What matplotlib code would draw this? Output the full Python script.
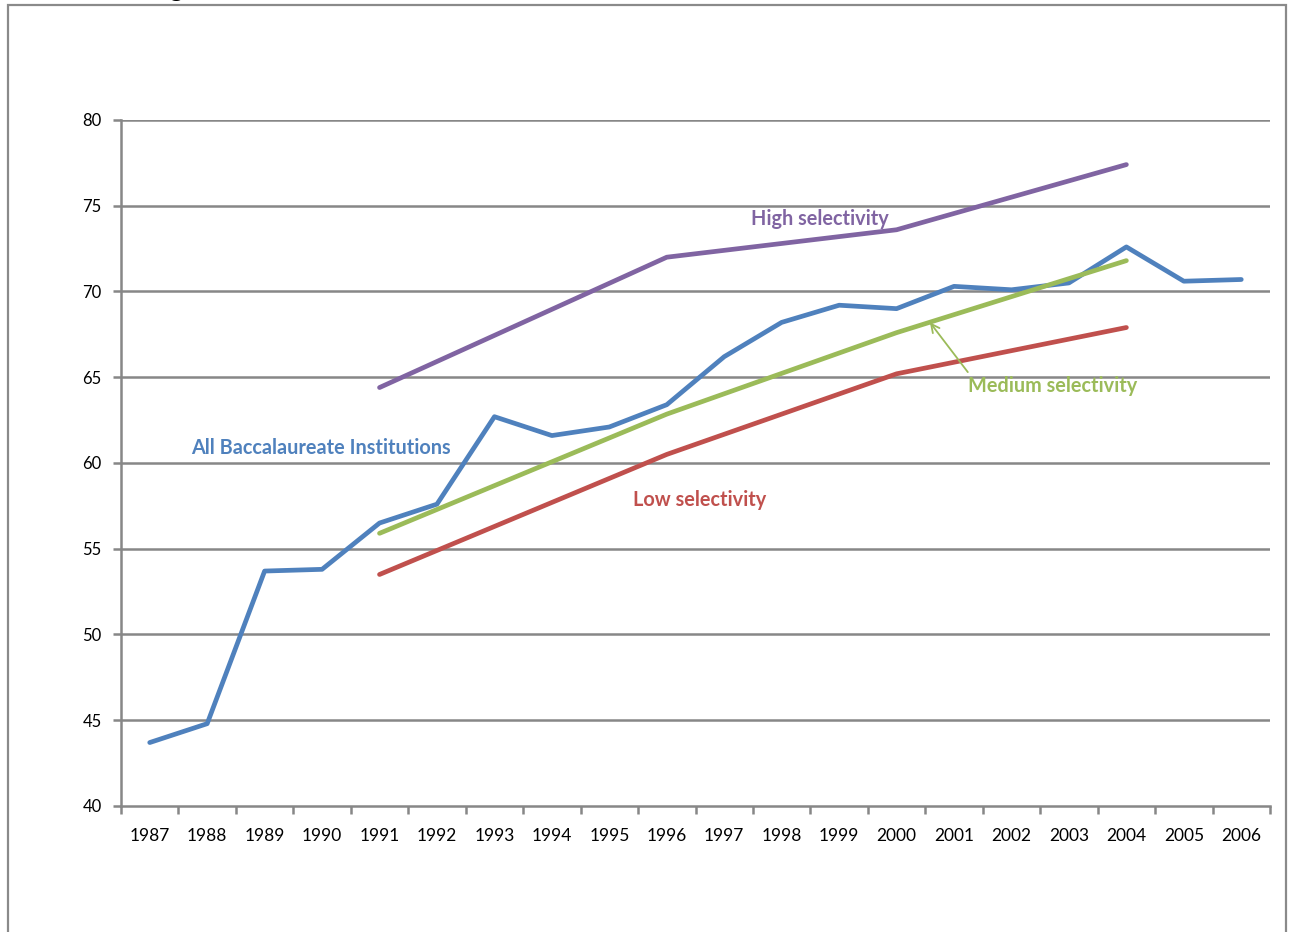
import numpy as np
import matplotlib
matplotlib.use("Agg")
import matplotlib.pyplot as plt
from matplotlib.patches import Rectangle

years = list(range(1987, 2007))
all_bacc = [43.7, 44.8, 53.7, 53.8, 56.5, 57.6, 62.7, 61.6, 62.1, 63.4,
            66.2, 68.2, 69.2, 69.0, 70.3, 70.1, 70.5, 72.6, 70.6, 70.7]
sel_years = [1991, 1996, 2000, 2004]
high_sel = [64.4, 72.0, 73.6, 77.4]
medium_sel = [55.9, 62.85, 67.6, 71.8]
low_sel = [53.5, 60.5, 65.2, 67.9]

yticks = [40, 45, 50, 55, 60, 65, 70, 75, 80]

BLUE = "#4F81BD"
RED = "#C0504D"
GREEN = "#9BBB59"
PURPLE = "#8064A2"
GRID = "#878787"

plt.rcParams['font.family'] = ['Lato', 'DejaVu Sans']

fig = plt.figure(figsize=(12.91, 9.32), dpi=100)
W, H = 1291, 932
ax = fig.add_axes([121 / W, 1 - 806 / H, (1270 - 121) / W, (806 - 120) / H])

# outer frame
fig.patches.append(Rectangle((8 / W, -0.05), (1286 - 8) / W, 1 - 5 / H + 0.05,
                             transform=fig.transFigure, fill=False,
                             edgecolor="#8a8a8a", linewidth=1.6))
fig.text(176 / W, 1 + 2.5 / H, "g", fontsize=18, fontweight="bold",
         ha="center", va="baseline", color="black")

idx = {y: i for i, y in enumerate(years)}
x_all = np.arange(len(years))
x_sel = [idx[y] for y in sel_years]

LW = 3.4
ax.plot(x_all, all_bacc, color=BLUE, lw=LW, solid_capstyle="round", zorder=3)
ax.plot(x_sel, high_sel, color=PURPLE, lw=LW, solid_capstyle="round", zorder=3)
ax.plot(x_sel, medium_sel, color=GREEN, lw=LW, solid_capstyle="round", zorder=3)
ax.plot(x_sel, low_sel, color=RED, lw=LW, solid_capstyle="round", zorder=3)

ax.set_xlim(-0.5, len(years) - 0.5)
ax.set_ylim(40, 80)
ax.set_yticks(yticks)
ax.set_yticklabels([str(v) for v in yticks], fontsize=12)
ax.set_xticks(x_all)
ax.set_xticklabels([str(y) for y in years], fontsize=12.5)
ax.set_xticks(np.arange(-0.5, len(years)), minor=True)

ax.tick_params(axis="x", which="major", length=0, pad=16)
ax.tick_params(axis="x", which="minor", length=6, width=1.8, color=GRID)
ax.tick_params(axis="y", which="major", length=6, width=1.8, color=GRID, pad=8)

for s in ["top", "right"]:
    ax.spines[s].set_visible(False)
for s in ["left", "bottom"]:
    ax.spines[s].set_color(GRID)
    ax.spines[s].set_linewidth(1.8)

for v in yticks[1:]:
    ax.axhline(v, color=GRID, lw=1.8, zorder=1)

FS = 14.3
ax.text(11.67, 74.23, "High selectivity", color=PURPLE, fontsize=FS,
        fontweight="bold", ha="center", va="center")
ax.text(2.98, 60.87, "All Baccalaureate Institutions", color=BLUE, fontsize=FS,
        fontweight="bold", ha="center", va="center")
ax.text(9.58, 57.84, "Low selectivity", color=RED, fontsize=FS,
        fontweight="bold", ha="center", va="center")
ax.text(15.72, 64.49, "Medium selectivity", color=GREEN, fontsize=FS,
        fontweight="bold", ha="center", va="center")
ax.annotate("", xy=(13.58, 68.2), xytext=(14.24, 65.3),
            arrowprops=dict(arrowstyle="->,head_length=0.6,head_width=0.3",
                            color=GREEN, lw=1.3, shrinkA=0, shrinkB=0))

fig.savefig("out.png", dpi=100)
